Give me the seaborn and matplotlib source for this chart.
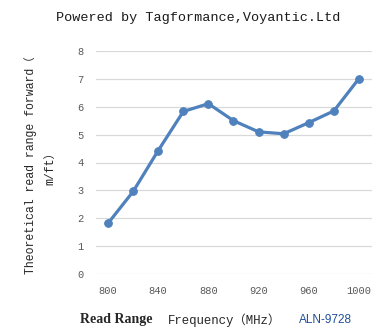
import matplotlib
matplotlib.use("Agg")
import matplotlib.pyplot as plt
import seaborn as sns
import pandas as pd

frequency = [800, 820, 840, 860, 880, 900, 920, 940, 960, 980, 1000]
read_range = [1.82, 2.96, 4.43, 5.83, 6.11, 5.50, 5.10, 5.03, 5.43, 5.85, 7.01]
x_ticks = [800, 840, 880, 920, 960, 1000]
y_ticks = [0, 1, 2, 3, 4, 5, 6, 7, 8]

title = "Powered by Tagformance,Voyantic.Ltd"
ylabel = "Theoretical read range forward（\nm/ft）"
xlabel_bold = "Read Range"
xlabel_rest = "Frequency（MHz）"
tag_name = "ALN-9728"

sns.set_theme(style="white")
mono = ["Liberation Mono", "Noto Sans CJK SC", "DejaVu Sans"]

df = pd.DataFrame({"freq": frequency, "range": read_range})

W, H = 384, 334
fig = plt.figure(figsize=(W / 100, H / 100), dpi=100)
ax = fig.add_axes([96 / W, 1 - 274 / H, (372 - 96) / W, (274 - 51) / H])

sns.lineplot(data=df, x="freq", y="range", ax=ax, color="#4F81BD",
             linewidth=2.3, marker="o", markersize=5.5,
             markeredgecolor="#4F81BD", markerfacecolor="#4F81BD", zorder=3)

ax.set_xlim(790.4, 1010.4)
ax.set_ylim(0, 8)
ax.set_xticks(x_ticks)
ax.set_yticks(y_ticks)
ax.set_xlabel("")
ax.set_ylabel("")
for s in ax.spines.values():
    s.set_visible(False)
ax.grid(False)
ax.yaxis.grid(True, color="#d9d9d9", linewidth=0.9)
ax.set_axisbelow(True)
ax.tick_params(axis="both", length=0, colors="#595959", labelsize=7.5)
ax.tick_params(axis="x", pad=9)
ax.tick_params(axis="y", pad=9)
for lab in ax.get_xticklabels() + ax.get_yticklabels():
    lab.set_family(mono)

fig.text(198 / W, 1 - 18 / H, title, ha="center", va="center",
         fontsize=9.7, family=mono, color="#1a1a1a")

fig.text(40 / W, 1 - 165 / H, ylabel, rotation=90, ha="center", va="center",
         multialignment="center", fontsize=8.3, family=mono, color="#262626",
         linespacing=1.8)

ly = 1 - 320 / H
fig.text(80 / W, ly, xlabel_bold, ha="left", va="center", fontsize=10,
         family="Liberation Serif", fontweight="bold", color="#262626")
fig.text(168 / W, ly, xlabel_rest, ha="left", va="center", fontsize=8.9,
         family=mono, color="#262626")
fig.text(299 / W, ly, tag_name, ha="left", va="center", fontsize=8.5,
         family="Liberation Sans", color="#1F4E9A")

fig.savefig("out.png", dpi=100)
